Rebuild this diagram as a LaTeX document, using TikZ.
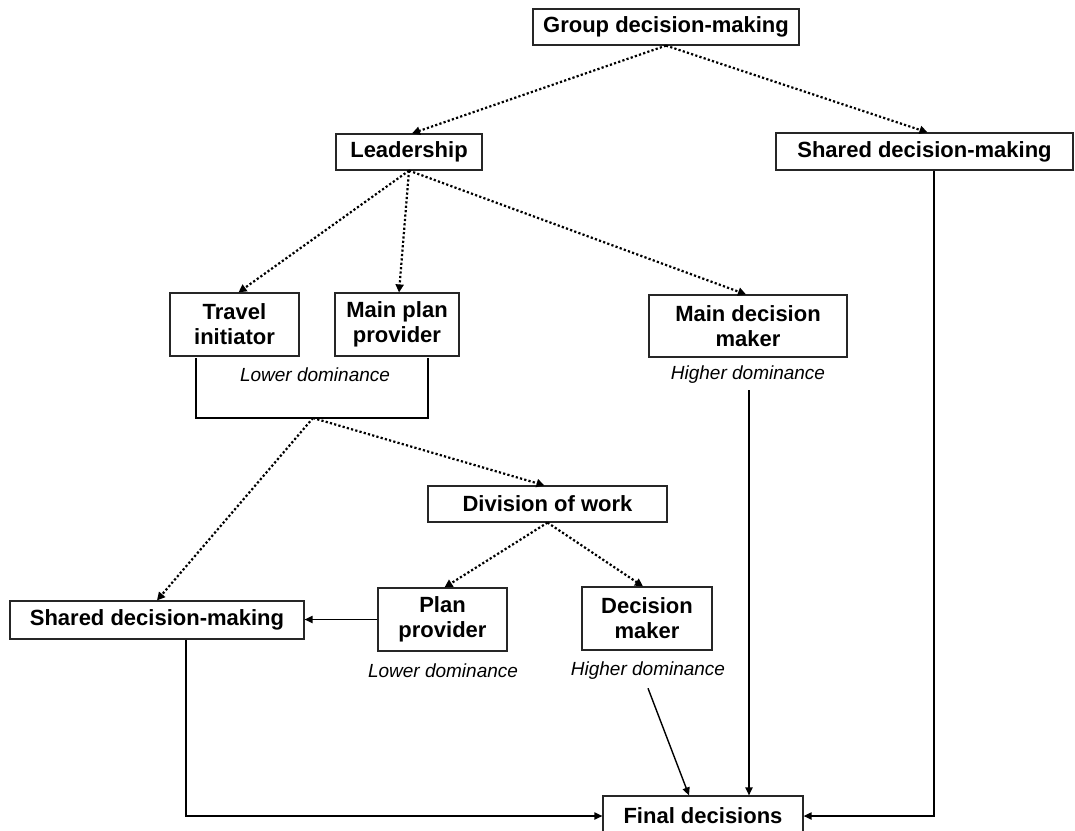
\documentclass[tikz,border=0pt]{standalone}
\usepackage{fontspec}
\setmainfont{Liberation Sans}
\usetikzlibrary{arrows.meta,calc}
\begin{document}
\begin{tikzpicture}[x=0.5pt,y=-0.5pt,
  box/.style={draw=black!85,line width=0.6pt,inner sep=0pt,align=center,
    font=\fontsize{11}{12.6}\selectfont\bfseries},
  note/.style={inner sep=0pt,font=\fontsize{9.5}{11}\selectfont\itshape},
  dotarrow/.style={line width=1.1pt,dash pattern=on 1.1pt off 1.1pt,
    -{Triangle[length=4pt,width=4pt]}},
  solidarrow/.style={line width=0.7pt,-{Triangle[length=4pt,width=3.6pt]}},
  plainline/.style={line width=0.7pt}]
\useasboundingbox (0,0) rectangle (1075,830);

% boxes
\node[box,minimum width=133pt,minimum height=18pt] (grp) at (666,27) {Group decision-making};
\node[box,minimum width=73pt,minimum height=18pt] (lead) at (409,152) {Leadership};
\node[box,minimum width=148.5pt,minimum height=18.5pt] (sharedR) at (924.5,151.5) {Shared decision-making};
\node[box,minimum width=64.5pt,minimum height=31.5pt] (travel) at (234.5,324.5) {Travel\\initiator};
\node[box,minimum width=62pt,minimum height=31.5pt] (mainplan) at (397,324.5) {Main plan\\provider};
\node[box,minimum width=99pt,minimum height=31pt] (mdm) at (748,326) {Main decision\\maker};
\node[box,minimum width=119.5pt,minimum height=18pt] (div) at (547.5,504) {Division of work};
\node[box,minimum width=147pt,minimum height=19pt] (sharedL) at (157,620) {Shared decision-making};
\node[box,minimum width=64.5pt,minimum height=31.5pt] (plan) at (442.5,619.5) {Plan\\provider};
\node[box,minimum width=65pt,minimum height=31.5pt] (dm) at (647,618.5) {Decision\\maker};
\node[box,minimum width=100pt,minimum height=20pt] (final) at (703,816) {Final decisions};

% dominance labels
\node[note] (low1) at (315,375) {Lower dominance};
\node[note] (high1) at (748,375) {Higher dominance};
\node[note] (low2) at (443,671) {Lower dominance};
\node[note] (high2) at (648,671) {Higher dominance};

% bracket joining the two lower-dominance roles
\coordinate (brL) at (196,358);
\coordinate (brR) at (428,358);
\coordinate (brM) at (313,418);
\draw[plainline] (brL) -- (brL |- brM) -- (brR |- brM) -- (brR);

% dotted hierarchy
\draw[dotarrow] (grp.south) -- ($(lead.north)+(3,0)$);
\draw[dotarrow] (grp.south) -- ($(sharedR.north)+(3,0)$);
\draw[dotarrow] (lead.south) -- ($(travel.north)+(4,0)$);
\draw[dotarrow] (lead.south) -- ($(mainplan.north)+(2,0)$);
\draw[dotarrow] (lead.south) -- ($(mdm.north)+(-2,0)$);
\draw[dotarrow] (brM) -- ($(div.north)+(-3,0)$);
\draw[dotarrow] (brM) -- (sharedL.north);
\draw[dotarrow] (div.south) -- ($(plan.north)+(2,0)$);
\draw[dotarrow] (div.south) -- ($(dm.north)+(-4,0)$);

% solid connectors
\draw[solidarrow] (plan.west) -- (plan.west -| sharedL.east);
\coordinate (sLdown) at ($(sharedL.south)+(29,0)$);
\draw[solidarrow] (sLdown) |- (final.west);
\coordinate (sRdown) at ($(sharedR.south)+(9.5,0)$);
\draw[solidarrow] (sRdown) |- (final.east);
\coordinate (hd2) at ($(high2.south)+(0,8)$);
\draw[solidarrow] (hd2) -- ($(final.north)+(-14,0)$);
\coordinate (hd1) at ($(high1.south)+(1,6)$);
\draw[solidarrow] (hd1) -- (hd1 |- final.north);
\end{tikzpicture}
\end{document}
